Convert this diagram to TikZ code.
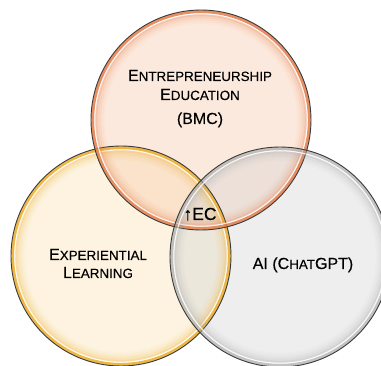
\documentclass[tikz,border=0pt]{standalone}
\usepackage{fontspec}
\setmainfont{Liberation Sans}[FakeBold=0.25]

% small-caps look: full-size initial, reduced capitals after it
\newcommand\capbig[1]{{\fontsize{16}{19}\selectfont #1}}
\newcommand\capsml[1]{{\fontsize{13.4}{16}\selectfont #1}}

\definecolor{eduFill}{HTML}{F8C9AA}
\definecolor{eduEdge}{HTML}{E57F4E}
\definecolor{expFill}{HTML}{F9E2B2}
\definecolor{expEdge}{HTML}{EDAE2C}
\definecolor{aiFill}{HTML}{D4D4D4}
\definecolor{aiEdge}{HTML}{A6A6A6}
\definecolor{rimLine}{HTML}{3A3A3A}

\tikzset{
  setcircle/.style={circle, minimum size=220pt, inner sep=0pt, fill=#1, fill opacity=0.4},
  label/.style={anchor=base, text=black, inner sep=0pt},
}

% glossy rim of a set circle: coloured band at the edge, white highlight, soft inner glow
\newcommand\glossyrim[3]{%
  \foreach \d/\w/\o in {5/2.2/0.34, 7/2.2/0.22, 9/2.2/0.14, 11/2.2/0.08, 13/2.2/0.04}{
    \draw[#2, line width=\w pt, opacity=\o] (#1.center) circle[radius=110pt-\d pt];
  }
  \draw[#2, line width=3pt, opacity=#3] (#1.center) circle[radius=108.3pt];
  \draw[white, line width=1pt, opacity=0.85] (#1.center) circle[radius=106.2pt];
  \draw[rimLine, line width=0.9pt] (#1.center) circle[radius=110pt];
}

\begin{document}
\begin{tikzpicture}[x=1pt, y=-1pt]
  \useasboundingbox (0,0) rectangle (381,366);
  \begin{scope}
    \clip (0,0) rectangle (381,366);

    % the three sets
    \node[setcircle=expFill] (exp) at (121,256) {};
    \node[setcircle=eduFill] (edu) at (201,120) {};
    \node[setcircle=aiFill]  (ai)  at (280,257) {};

    \glossyrim{exp}{expEdge}{0.85}
    \glossyrim{edu}{eduEdge}{0.85}
    \glossyrim{ai}{aiEdge}{0.6}
  \end{scope}

  % labels
  \node[label] (eduA) at (200,81) {\capbig{E}\capsml{NTREPRENEURSHIP}};
  \node[label] (eduB) at (200,100) {\capbig{E}\capsml{DUCATION}};
  \node[label] (eduC) at (200,124) {\capbig{(BMC)}};

  \node[label] (expA) at (98,260) {\capbig{E}\capsml{XPERIENTIAL}};
  \node[label] (expB) at (98,278) {\capbig{L}\capsml{EARNING}};

  \node[label] (aiA) at (303,269) {\capbig{AI (C}\capsml{HAT}\capbig{GPT)}};

  \node[label] (core) at (200,220) {{\fontsize{17.5}{20}\selectfont ↑EC}};
\end{tikzpicture}
\end{document}
